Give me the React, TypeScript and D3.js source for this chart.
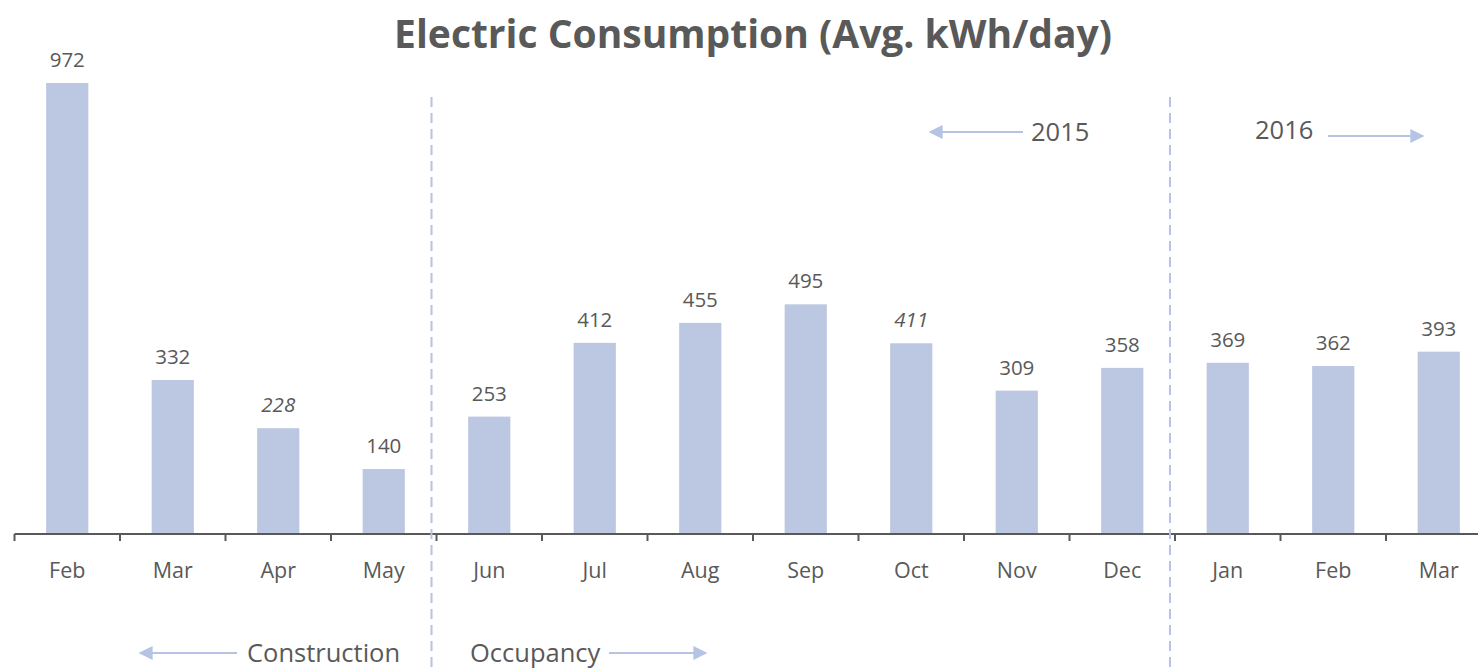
import React, { useEffect, useRef } from 'react';
import * as d3 from 'd3';

// monthly data, Feb 2015 - Mar 2016
const months = ['Feb', 'Mar', 'Apr', 'May', 'Jun', 'Jul', 'Aug', 'Sep', 'Oct', 'Nov', 'Dec', 'Jan', 'Feb', 'Mar'];
const kwhPerDay = [972, 332, 228, 140, 253, 412, 455, 495, 411, 309, 358, 369, 362, 393];
// values shown in italics in the original
const estimated = [false, false, true, false, false, false, false, false, true, false, false, false, false, false];

const WIDTH = 1478;
const HEIGHT = 668;
const FONT = '"Open Sans", "Liberation Sans", sans-serif';
const BAR = '#bcc8e2';
const LINE = '#b4c4e2';
const TEXT = '#595959';

export default function App() {
  const ref = useRef<SVGSVGElement>(null);

  useEffect(() => {
    document.body.style.margin = '0';
    const svg = d3.select(ref.current);
    svg.selectAll('*').remove();

    const baseline = 534;
    const x = d3
      .scaleBand<number>()
      .domain(months.map((_, i) => i))
      .range([14.5, 14.5 + 14 * 105.5])
      .paddingInner(0.6)
      .paddingOuter(0.3);
    const y = d3.scaleLinear().domain([0, 1000]).range([baseline, 70]);

    const defs = svg.append('defs');
    defs
      .append('marker')
      .attr('id', 'head')
      .attr('viewBox', '0 0 10 10')
      .attr('refX', 9)
      .attr('refY', 5)
      .attr('markerWidth', 7)
      .attr('markerHeight', 7)
      .attr('markerUnits', 'strokeWidth')
      .attr('orient', 'auto')
      .append('path')
      .attr('d', 'M0,0 L10,5 L0,10 Z')
      .attr('fill', LINE);

    // title
    svg
      .append('text')
      .attr('x', 753)
      .attr('y', 48)
      .attr('text-anchor', 'middle')
      .attr('font-family', FONT)
      .attr('font-weight', 'bold')
      .attr('font-size', 39)
      .attr('fill', TEXT)
      .text('Electric Consumption (Avg. kWh/day)');

    // bars
    svg
      .selectAll('rect.bar')
      .data(kwhPerDay)
      .enter()
      .append('rect')
      .attr('class', 'bar')
      .attr('x', (_, i) => x(i)!)
      .attr('width', x.bandwidth())
      .attr('y', d => y(d))
      .attr('height', d => baseline - y(d))
      .attr('fill', BAR);

    // value labels
    svg
      .selectAll('text.val')
      .data(kwhPerDay)
      .enter()
      .append('text')
      .attr('class', 'val')
      .attr('x', (_, i) => x(i)! + x.bandwidth() / 2)
      .attr('y', d => y(d) - 16)
      .attr('text-anchor', 'middle')
      .attr('font-family', FONT)
      .attr('font-size', 20.5)
      .attr('font-style', (_, i) => (estimated[i] ? 'italic' : 'normal'))
      .attr('fill', TEXT)
      .text(d => d);

    // axis
    const step = x.step();
    const bounds = months.map((_, i) => x(i)! - (step * x.paddingInner()) / 2);
    svg
      .append('line')
      .attr('x1', 14.5)
      .attr('x2', WIDTH)
      .attr('y1', baseline)
      .attr('y2', baseline)
      .attr('stroke', TEXT)
      .attr('stroke-width', 2);
    svg
      .selectAll('line.tick')
      .data(bounds)
      .enter()
      .append('line')
      .attr('class', 'tick')
      .attr('x1', d => d)
      .attr('x2', d => d)
      .attr('y1', baseline)
      .attr('y2', baseline + 7)
      .attr('stroke', TEXT)
      .attr('stroke-width', 2);
    svg
      .selectAll('text.month')
      .data(months)
      .enter()
      .append('text')
      .attr('class', 'month')
      .attr('x', (_, i) => x(i)! + x.bandwidth() / 2)
      .attr('y', 578)
      .attr('text-anchor', 'middle')
      .attr('font-family', FONT)
      .attr('font-size', 21.5)
      .attr('fill', TEXT)
      .text(d => d);

    // dashed dividers: construction|occupancy and 2015|2016
    [4, 11].forEach(i => {
      const dx = x(i)! - (step * x.paddingInner()) / 2 - 5;
      svg
        .append('line')
        .attr('x1', dx)
        .attr('x2', dx)
        .attr('y1', 97)
        .attr('y2', HEIGHT)
        .attr('stroke', LINE)
        .attr('stroke-width', 2)
        .attr('stroke-dasharray', '10,6');
    });

    // annotations with arrows
    const note = (label: string, tx: number, ty: number, ax1: number, ax2: number, ay: number) => {
      svg
        .append('text')
        .attr('x', tx)
        .attr('y', ty)
        .attr('font-family', FONT)
        .attr('font-size', 25.5)
        .attr('fill', TEXT)
        .text(label);
      svg
        .append('line')
        .attr('x1', ax1)
        .attr('x2', ax2)
        .attr('y1', ay)
        .attr('y2', ay)
        .attr('stroke', LINE)
        .attr('stroke-width', 2)
        .attr('marker-end', 'url(#head)');
    };
    note('Construction', 247, 662, 237, 140, 653);
    note('Occupancy', 470, 662, 609, 706, 653);
    note('2015', 1031, 141, 1023, 930, 132);
    note('2016', 1255, 139, 1328, 1423, 136);
  }, []);

  return <svg ref={ref} width={WIDTH} height={HEIGHT} style={{ display: 'block' }} />;
}
